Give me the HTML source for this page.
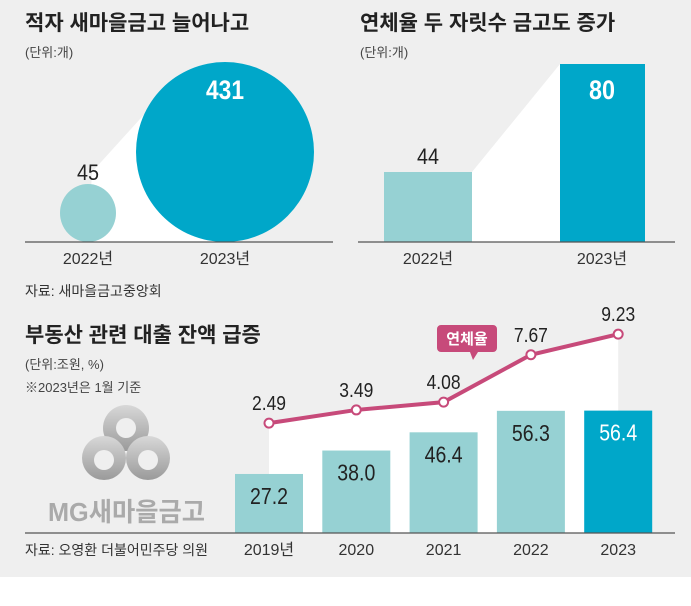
<!DOCTYPE html>
<html><head><meta charset="utf-8"><style>
body{margin:0;width:691px;height:606px;background:#fff;overflow:hidden}
svg{display:block}
text{font-family:"Liberation Sans","Noto Sans CJK KR",sans-serif}
</style></head><body>
<svg width="691" height="606">
<defs><linearGradient id="lg" x1="0" y1="0" x2="0" y2="1"><stop offset="0" stop-color="#d8d8d8"/><stop offset="1" stop-color="#9a9a9a"/></linearGradient></defs>
<rect x="0" y="0" width="691" height="577" fill="#efefef"/>
<text x="25" y="30" font-size="21" font-weight="bold" fill="#222">적자 새마을금고 늘어나고</text>
<text x="25" y="57" font-size="13" fill="#444">(단위:개)</text>
<polygon points="92,172 150,108 230,242 88,242" fill="#fff"/>
<ellipse cx="88" cy="213" rx="28" ry="29" fill="#96d1d3"/>
<ellipse cx="225" cy="152" rx="89" ry="90" fill="#00a7c9"/>
<text x="88" y="180" font-size="22" text-anchor="middle" fill="#222" textLength="22" lengthAdjust="spacingAndGlyphs">45</text>
<text x="225" y="99" font-size="27" font-weight="bold" text-anchor="middle" fill="#fff" textLength="38" lengthAdjust="spacingAndGlyphs">431</text>
<line x1="25" y1="242" x2="333" y2="242" stroke="#555" stroke-width="1.2"/>
<text x="88" y="264" font-size="16" text-anchor="middle" fill="#333">2022년</text>
<text x="225" y="264" font-size="16" text-anchor="middle" fill="#333">2023년</text>
<text x="360" y="30" font-size="21" font-weight="bold" fill="#222">연체율 두 자릿수 금고도 증가</text>
<text x="360" y="57" font-size="13" fill="#444">(단위:개)</text>
<polygon points="472,172 560,64 560,242 472,242" fill="#fff"/>
<rect x="384" y="172" width="88" height="70" fill="#96d1d3"/>
<rect x="560" y="64" width="85" height="178" fill="#00a7c9"/>
<text x="428" y="164" font-size="22" text-anchor="middle" fill="#222" textLength="22" lengthAdjust="spacingAndGlyphs">44</text>
<text x="602" y="99" font-size="27" font-weight="bold" text-anchor="middle" fill="#fff" textLength="26" lengthAdjust="spacingAndGlyphs">80</text>
<line x1="358" y1="242" x2="675" y2="242" stroke="#555" stroke-width="1.2"/>
<text x="428" y="264" font-size="16" text-anchor="middle" fill="#333">2022년</text>
<text x="602" y="264" font-size="16" text-anchor="middle" fill="#333">2023년</text>
<text x="25" y="296" font-size="14" fill="#333">자료: 새마을금고중앙회</text>
<text x="25" y="342" font-size="21" font-weight="bold" fill="#222">부동산 관련 대출 잔액 급증</text>
<text x="25" y="369" font-size="13" fill="#444">(단위:조원, %)</text>
<text x="25" y="392" font-size="13" fill="#444">※2023년은 1월 기준</text>
<g fill="url(#lg)">
<circle cx="126" cy="428" r="23"/><circle cx="104" cy="458" r="22"/><circle cx="148" cy="458" r="22"/>
<circle cx="126" cy="428" r="10" fill="#efefef"/><circle cx="104" cy="460" r="10" fill="#efefef"/><circle cx="148" cy="460" r="10" fill="#efefef"/>
</g>
<text x="48" y="521" font-size="26" font-weight="bold" fill="#aaa" textLength="157" lengthAdjust="spacingAndGlyphs">MG새마을금고</text>
<g id="chart"></g>
<line x1="25" y1="533" x2="675" y2="533" stroke="#555" stroke-width="1.2"/>
<text x="25" y="555" font-size="14" fill="#333">자료: 오영환 더불어민주당 의원</text>
</svg>
<script>
const years=["2019년","2020","2021","2022","2023"];
const loans=[27.2,38.0,46.4,56.3,56.4];
const rates=[2.49,3.49,4.08,7.67,9.23];
const NS="http://www.w3.org/2000/svg";
const g=document.getElementById('chart');
const x0=269,dx=87.3,base=533;
const xs=i=>x0+i*dx;
const yb=v=>base-v*2.17;
const yl=v=>456-v*13.2;
function mk(t,a){const e=document.createElementNS(NS,t);for(const k in a)e.setAttribute(k,a[k]);g.appendChild(e);return e;}
let pts=rates.map((r,i)=>xs(i)+","+yl(r)).join(" ");
let area=mk('polygon',{points:pts+" "+xs(4)+","+base+" "+xs(0)+","+base,fill:"#fff"});


loans.forEach((v,i)=>{
 const b=mk('rect',{x:xs(i)-34,y:yb(v),width:68,height:base-yb(v),fill:i==4?"#00a7c9":"#96d1d3"});
 
 
 const t=mk('text',{x:xs(i),y:yb(v)+30,"font-size":23,"text-anchor":"middle",fill:i==4?"#fff":"#222",textLength:38,lengthAdjust:"spacingAndGlyphs"});
 t.textContent=v.toFixed(1);
 
 
 const l=mk('text',{x:xs(i),y:555,"font-size":16,"text-anchor":"middle",fill:"#333"});
 l.textContent=years[i];
 
 
});
const line=mk('polyline',{points:pts,fill:"none",stroke:"#c74a7a","stroke-width":4});


rates.forEach((r,i)=>{
 const c=mk('circle',{cx:xs(i),cy:yl(r),r:4.5,fill:"#fff",stroke:"#c74a7a","stroke-width":2});
 
 
 const t=mk('text',{x:xs(i),y:yl(r)-13,"font-size":20,"text-anchor":"middle",fill:"#222",textLength:34,lengthAdjust:"spacingAndGlyphs"});
 t.textContent=r.toFixed(2);
 
 
});
const badge=mk('path',{d:"M441,325 h52 a4,4 0 0 1 4,4 v19 a4,4 0 0 1 -4,4 h-15 l-5,8 l-3,-8 h-29 a4,4 0 0 1 -4,-4 v-19 a4,4 0 0 1 4,-4z",fill:"#c74a7a"});


const bt=mk('text',{x:467,y:344,"font-size":15,"font-weight":"bold","text-anchor":"middle",fill:"#fff"});
bt.textContent="연체율";


</script>
</body></html>
